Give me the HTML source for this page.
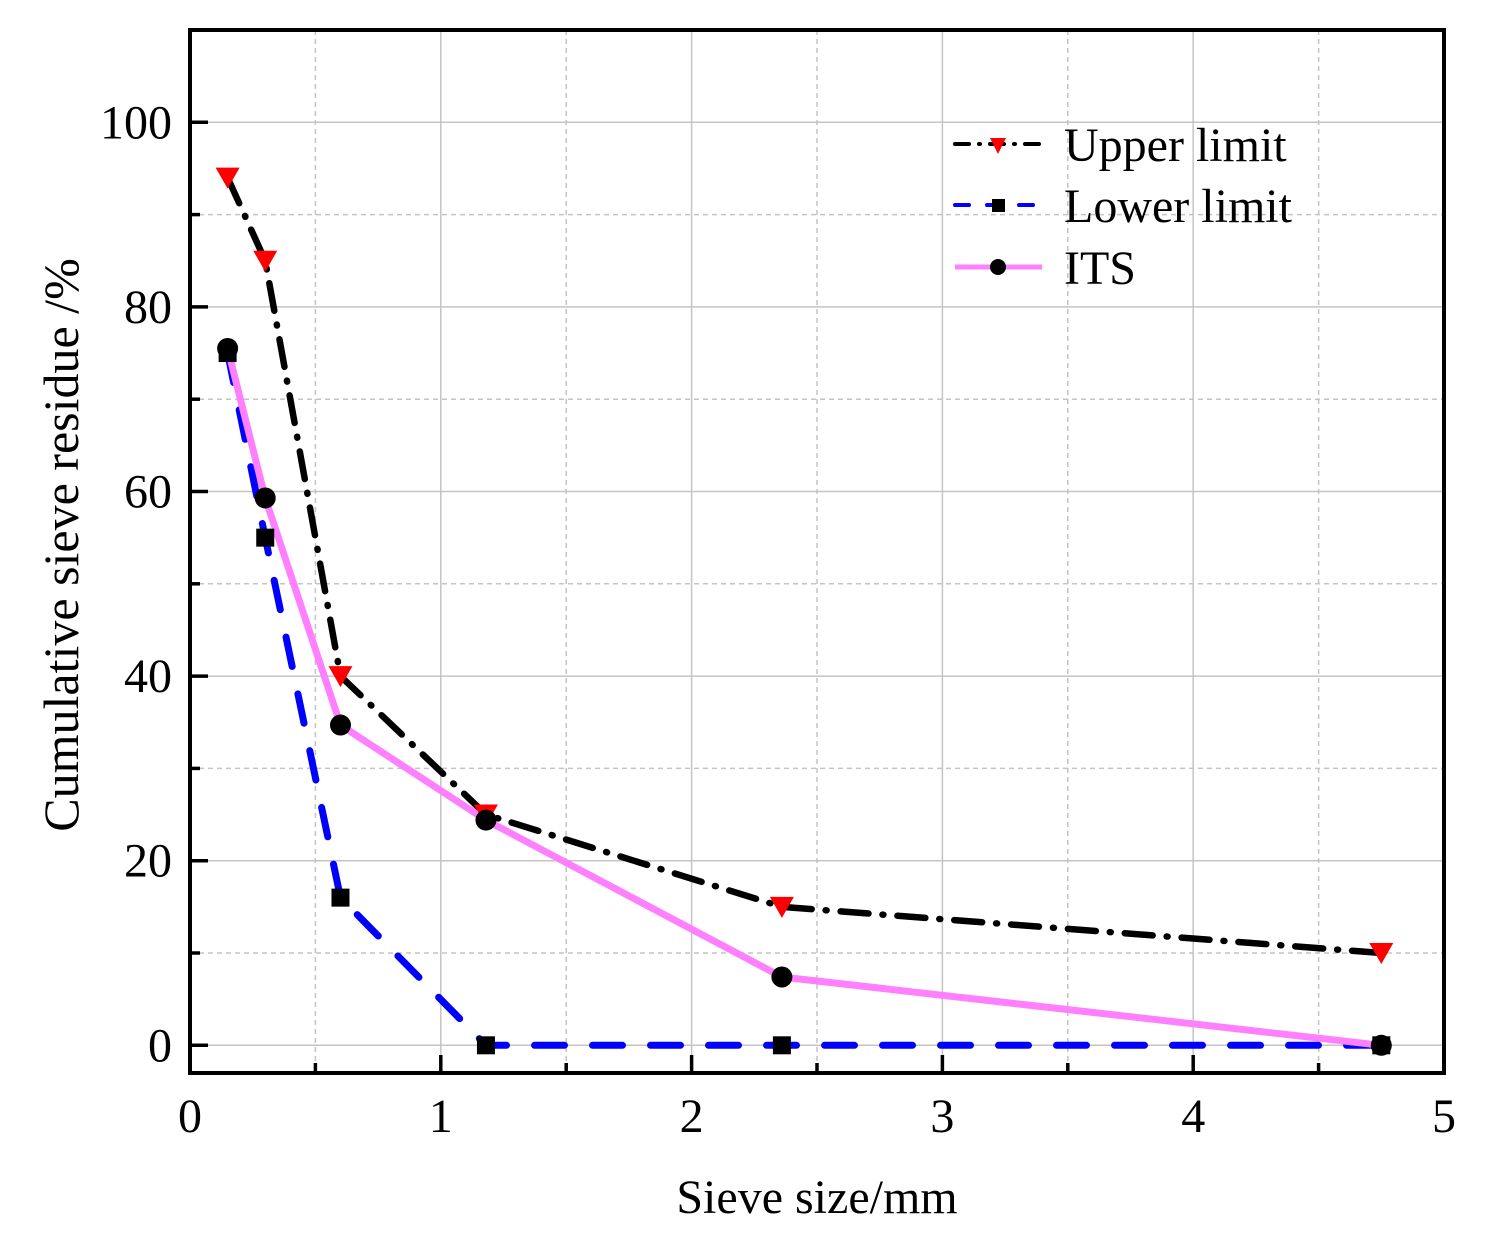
<!DOCTYPE html>
<html><head><meta charset="utf-8"><style>
body{margin:0;background:#fff}
svg{display:block;font-family:"Liberation Serif",serif}
</style></head><body>
<svg id="chart" width="1495" height="1233" viewBox="0 0 1495 1233" xmlns="http://www.w3.org/2000/svg">
<g id="grid"></g>
<g id="series"></g>
<g id="axes"></g>
<text x="817" y="1213" font-size="48" text-anchor="middle">Sieve size/mm</text>
<text transform="translate(78,545) rotate(-90)" font-size="50" text-anchor="middle">Cumulative sieve residue /%</text>
<g>
  <g>
    <line x1="955" y1="144" x2="1042" y2="144" stroke="#000" stroke-width="4" stroke-linecap="round" stroke-dasharray="14,10,1,10"/>
    <path d="M990,138 L1006,138 L998,154 Z" fill="#f00"/>
    <text x="1064" y="161" font-size="48">Upper limit</text>
  </g>
  <g>
    <line x1="955" y1="205" x2="1042" y2="205" stroke="#00f" stroke-width="4" stroke-linecap="round" stroke-dasharray="14,18"/>
    <rect x="992" y="199" width="13" height="13" fill="#000"/>
    <text x="1064" y="222" font-size="48">Lower limit</text>
  </g>
  <g>
    <line x1="955" y1="267" x2="1042" y2="267" stroke="#ff80ff" stroke-width="5"/>
    <circle cx="998" cy="267" r="8" fill="#000"/>
    <text x="1064" y="284" font-size="48">ITS</text>
  </g>
</g>
</svg>
<script>
const sizes = [0.15, 0.3, 0.6, 1.18, 2.36, 4.75];
const upperLimit = [94, 85, 40, 25, 15, 10];
const lowerLimit = [75, 55, 16, 0, 0, 0];
const itsValues = [75.5, 59.3, 34.7, 24.4, 7.4, 0];
const xTicks = [0, 1, 2, 3, 4, 5];
const yTicks = [0, 20, 40, 60, 80, 100];

const X0=190,X1=1444,Y0=1073,Y1=30;
const xMin=0,xMax=5,yMin=-3,yMax=110;
const sx=v=>X0+(v-xMin)/(xMax-xMin)*(X1-X0);
const sy=v=>Y0-(v-yMin)/(yMax-yMin)*(Y0-Y1);
const NS='http://www.w3.org/2000/svg';
function mk(tag,attrs,parent){const e=document.createElementNS(NS,tag);for(const k in attrs)e.setAttribute(k,attrs[k]);parent.appendChild(e);return e;}
const grid=document.getElementById('grid'),axes=document.getElementById('axes'),series=document.getElementById('series');

for(let v=0.5;v<5;v+=0.5){const major=Math.abs(v-Math.round(v))<1e-9;
const e=mk('line',{x1:sx(v),x2:sx(v),y1:Y1,y2:Y0,stroke:'#c4c4c4','stroke-width':1.5,'stroke-dasharray':major?'none':'5,4'},grid);

}
for(let v=0;v<=110;v+=10){const major=v%20===0;
const e=mk('line',{x1:X0,x2:X1,y1:sy(v),y2:sy(v),stroke:'#c4c4c4','stroke-width':1.5,'stroke-dasharray':major?'none':'5,4'},grid);

}

const frame=mk('rect',{x:X0,y:Y1,width:X1-X0,height:Y0-Y1,fill:'none',stroke:'#000','stroke-width':4},axes);


for(let v=0;v<=5;v+=0.5){const major=Math.abs(v-Math.round(v))<1e-9;const L=major?18:10;
mk('line',{x1:sx(v),x2:sx(v),y1:Y0,y2:Y0-L,stroke:'#000','stroke-width':3.5},axes);}
for(let v=0;v<=110;v+=10){const major=v%20===0;const L=major?18:10;
mk('line',{x1:X0,x2:X0+L,y1:sy(v),y2:sy(v),stroke:'#000','stroke-width':3.5},axes);}
xTicks.forEach(v=>{const t=mk('text',{x:sx(v),y:1132,'font-size':48,'text-anchor':'middle'},axes);t.textContent=v;

});
yTicks.forEach(v=>{const t=mk('text',{x:172,y:sy(v)+16,'font-size':48,'text-anchor':'end'},axes);t.textContent=v;

});

function pts(vals){return sizes.map((x,i)=>sx(x)+','+sy(vals[i])).join(' ');}
const lu=mk('polyline',{points:pts(upperLimit),fill:'none',stroke:'#000','stroke-width':6.5,'stroke-linecap':'round','stroke-linejoin':'round','stroke-dasharray':'28,14,1,14'},series);


const ll=mk('polyline',{points:pts(lowerLimit),fill:'none',stroke:'#00f','stroke-width':7,'stroke-linecap':'round','stroke-linejoin':'round','stroke-dasharray':'30,28'},series);


const li=mk('polyline',{points:pts(itsValues),fill:'none',stroke:'#ff80ff','stroke-width':7,'stroke-linejoin':'round'},series);


sizes.forEach((x,i)=>{
 const cx=sx(x);
 let y=sy(upperLimit[i]);
 const t=mk('path',{d:`M${cx-12},${y-10} L${cx+12},${y-10} L${cx},${y+11} Z`,fill:'#f00'},series);
 
 
 y=sy(lowerLimit[i]);
 const r=mk('rect',{x:cx-9,y:y-9,width:18,height:18,fill:'#000'},series);
 
 
 y=sy(itsValues[i]);
 const c=mk('circle',{cx:cx,cy:y,r:10.5,fill:'#000'},series);
 
 
});
</script>
</body></html>
